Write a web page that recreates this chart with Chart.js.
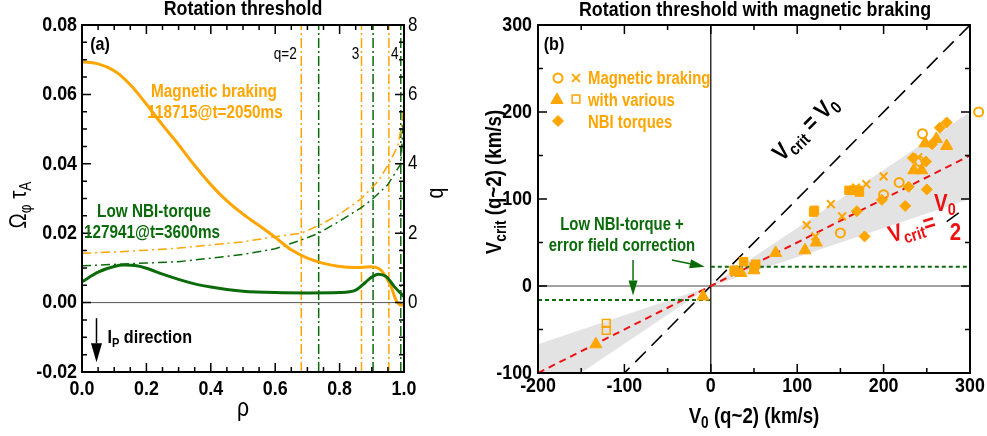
<!DOCTYPE html>
<html>
<head>
<meta charset="utf-8">
<script src="https://cdn.jsdelivr.net/npm/chart.js@4.4.0/dist/chart.umd.min.js"></script>
<style>
    body { margin: 0; background: #fff; width: 987px; height: 436px; overflow: hidden; position: relative; }
    #leftChart { position: absolute; left: 0; top: 0; }
    #rightChart { position: absolute; left: 470px; top: 0; }
</style>
</head>
<body>
<canvas id="leftChart" width="470" height="436"></canvas>
<canvas id="rightChart" width="517" height="436"></canvas>
<script>
// ---- Panel (a): rotation profiles ----
const rhoMB    = [0, 0.05, 0.1, 0.15, 0.2, 0.25, 0.3, 0.35, 0.4, 0.45, 0.5, 0.55, 0.6, 0.65, 0.7, 0.75, 0.8, 0.85, 0.895, 0.92, 0.94, 0.96, 0.975, 0.99, 1.0];
const omegaMB  = [0.0694, 0.0688, 0.0668, 0.0628, 0.0572, 0.0512, 0.0455, 0.0395, 0.0340, 0.0293, 0.0255, 0.0222, 0.0188, 0.0152, 0.0128, 0.0113, 0.0104, 0.0101, 0.0103, 0.0099, 0.0080, 0.0046, 0.0008, -0.0007, -0.0007];
const rhoLow   = [0, 0.05, 0.1, 0.13, 0.17, 0.2, 0.25, 0.3, 0.35, 0.4, 0.45, 0.5, 0.6, 0.7, 0.8, 0.85, 0.88, 0.9, 0.92, 0.945, 0.97, 1.0];
const omegaLow = [0.0060, 0.0088, 0.0104, 0.0108, 0.0106, 0.0099, 0.0082, 0.0067, 0.0054, 0.0045, 0.0038, 0.0033, 0.0029, 0.0028, 0.0029, 0.0036, 0.0058, 0.0074, 0.0082, 0.0075, 0.0046, 0.0017];

// safety factor profiles (right axis)
const rhoQMB   = [0, 0.1, 0.2, 0.3, 0.4, 0.5, 0.6, 0.681, 0.74, 0.8, 0.868, 0.92, 0.953, 0.98, 0.995, 1.0];
const qMB      = [1.42, 1.46, 1.51, 1.57, 1.66, 1.75, 1.9, 2.0, 2.24, 2.55, 3.0, 3.5, 4.0, 4.5, 5.2, 5.9];
const rhoQLow  = [0, 0.1, 0.2, 0.3, 0.4, 0.5, 0.6, 0.68, 0.735, 0.8, 0.865, 0.904, 0.95, 0.99, 1.0];
const qLow     = [1.06, 1.1, 1.14, 1.18, 1.28, 1.39, 1.55, 1.8, 2.0, 2.35, 2.72, 3.0, 3.4, 4.0, 5.5];

// rational surfaces q = 2, 3, 4
const qSurfMB  = [0.681, 0.868, 0.953];
const qSurfLow = [0.735, 0.904, 0.99];
const qSurfLabels = ['q=2', '3', '4'];

// ---- Panel (b): critical rotation vs V0 ----
const circV0  = [310, 245, 242, 218, 200, 150];
const circV   = [200, 175, 143, 119, 105, 61];
const crossV0 = [111, 121, 139, 152, 168, 180, 200, 240];
const crossV  = [70, 57, 94, 80, 113, 117, 126, 148];
const triV0   = [-133, -9, 30, 35, 50, 75, 109, 122, 235, 244, 248, 261, 273];
const triV    = [-67, -12, 16, 15, 18, 38, 41, 50, 133, 133, 164, 169, 161];
const sqV0    = [27, 38, 52, 50, 119, 120, 160, 165, 170, 172];
const sqV     = [18, 28, 25, 22, 85, 87, 110, 110, 110, 108];
const osqV0   = [-121, -121];
const osqV    = [-43, -51];
const diaV0   = [169, 178, 198, 225, 229, 250, 249, 256, 265, 273, 234];
const diaV    = [86, 57, 99, 92, 114, 111, 143, 163, 182, 188, 147];

// reference lines and shaded wedge (end points)
const lineX      = [-200, 300];
const unityY     = [-200, 300];   // Vcrit = V0
const halfY      = [-100, 150];   // Vcrit = V0/2
const bandEdgeA  = [-67, 100];
const bandEdgeB  = [-133, 200];
const efcPosX    = [0, 300];
const efcPosY    = [22, 22];
const efcNegX    = [-200, 0];
const efcNegY    = [-16, -16];

const FONT = "'Liberation Sans', Arial, Helvetica, sans-serif";
const SX = 0.85;            // horizontal squeeze to mimic a narrow Helvetica
const ORANGE = '#FFA500';
const GREEN = '#0b6b0b';
const RED = '#ee1111';

const pts = (xs, ys) => xs.map((x, i) => ({ x: x, y: ys[i] }));
const bold = (s) => 'bold ' + s + 'px ' + FONT;
const norm = (s) => s + 'px ' + FONT;

// text with sub-scripts: parts = [{t, f, dy}], baseline at y
function rich(ctx, parts, x, y, align, color, rot) {
    ctx.save();
    ctx.translate(x, y);
    if (rot) ctx.rotate(rot);
    ctx.scale(SX, 1);
    ctx.fillStyle = color;
    ctx.textAlign = 'left';
    ctx.textBaseline = 'alphabetic';
    let w = 0;
    parts.forEach(p => { ctx.font = p.f; w += ctx.measureText(p.t).width; });
    let cx = align === 'center' ? -w / 2 : (align === 'right' ? -w : 0);
    parts.forEach(p => {
        ctx.font = p.f;
        ctx.fillText(p.t, cx, p.dy || 0);
        cx += ctx.measureText(p.t).width;
    });
    ctx.restore();
}

// plain narrow text, vertically centred on y
function text(ctx, t, x, y, font, color, align, rot) {
    ctx.save();
    ctx.translate(x, y);
    if (rot) ctx.rotate(rot);
    ctx.scale(SX, 1);
    ctx.font = font;
    ctx.fillStyle = color;
    ctx.textAlign = align || 'center';
    ctx.textBaseline = 'middle';
    ctx.fillText(t, 0, 0);
    ctx.restore();
}

function arrow(ctx, x1, y1, x2, y2, hl, hw, color, lw) {
    const ang = Math.atan2(y2 - y1, x2 - x1);
    const bx = x2 - hl * Math.cos(ang), by = y2 - hl * Math.sin(ang);
    ctx.strokeStyle = color;
    ctx.fillStyle = color;
    ctx.lineWidth = lw;
    ctx.beginPath();
    ctx.moveTo(x1, y1);
    ctx.lineTo(bx, by);
    ctx.stroke();
    ctx.beginPath();
    ctx.moveTo(x2, y2);
    ctx.lineTo(bx + hw / 2 * Math.sin(ang), by - hw / 2 * Math.cos(ang));
    ctx.lineTo(bx - hw / 2 * Math.sin(ang), by + hw / 2 * Math.cos(ang));
    ctx.closePath();
    ctx.fill();
}

// inward tick marks on one side of the frame
function inTicks(chart, scale, side, minor, major) {
    const ctx = chart.ctx, a = chart.chartArea;
    const n = Math.round((scale.max - scale.min) / minor);
    ctx.strokeStyle = '#000';
    ctx.lineWidth = 1.5;
    ctx.beginPath();
    for (let i = 0; i <= n; i++) {
        const v = scale.min + i * minor;
        const r = v / major;
        const L = Math.abs(r - Math.round(r)) < 1e-6 ? 9 : 5;
        const p = scale.getPixelForValue(v);
        if (side === 'bottom') { ctx.moveTo(p, a.bottom); ctx.lineTo(p, a.bottom - L); }
        if (side === 'top') { ctx.moveTo(p, a.top); ctx.lineTo(p, a.top + L); }
        if (side === 'left') { ctx.moveTo(a.left, p); ctx.lineTo(a.left + L, p); }
        if (side === 'right') { ctx.moveTo(a.right, p); ctx.lineTo(a.right - L, p); }
    }
    ctx.stroke();
}

// tick labels drawn from the scale, so the narrow face can be used
function tickLabels(chart, scale, side, step, fmt, font, gap) {
    const ctx = chart.ctx, a = chart.chartArea;
    const n = Math.round((scale.max - scale.min) / step);
    for (let i = 0; i <= n; i++) {
        const v = scale.min + i * step;
        const label = fmt(v);
        if (label === '') continue;
        const p = scale.getPixelForValue(v);
        if (side === 'bottom') text(ctx, label, p, a.bottom + gap, font, '#000', 'center');
        if (side === 'left') text(ctx, label, a.left - gap, p, font, '#000', 'right');
        if (side === 'right') text(ctx, label, a.right + gap, p, font, '#000', 'left');
    }
}

function frame(chart) {
    const ctx = chart.ctx, a = chart.chartArea;
    ctx.strokeStyle = '#000';
    ctx.lineWidth = 2;
    ctx.strokeRect(a.left, a.top, a.right - a.left, a.bottom - a.top);
}

function lineSet(data, color, width, dash, axis) {
    return {
        type: 'line', data: data, borderColor: color, borderWidth: width, borderDash: dash || [],
        pointRadius: 0, fill: false, tension: 0, yAxisID: axis || 'y'
    };
}

// first dataset in the list ends up at the bottom
function stackUp(list) {
    list.forEach((d, i) => { d.order = list.length - i; });
    return list;
}

const hiddenAxis = { grid: { display: false }, border: { display: false }, ticks: { display: false } };

// ---------------- Panel (a) ----------------
const leftDatasets = [lineSet(pts([0, 1], [0, 0]), '#555', 1)];
qSurfMB.forEach(r => leftDatasets.push(lineSet(pts([r, r], [-2, 8]), ORANGE, 1.5, [10, 3, 2, 3], 'q')));
qSurfLow.forEach(r => leftDatasets.push(lineSet(pts([r, r], [-2, 8]), GREEN, 1.5, [10, 3, 2, 3], 'q')));
leftDatasets.push(lineSet(pts(rhoQMB, qMB), ORANGE, 1.5, [9, 4, 2, 4], 'q'));
leftDatasets.push(lineSet(pts(rhoQLow, qLow), GREEN, 1.5, [9, 4, 2, 4], 'q'));
leftDatasets.push(Object.assign(lineSet(pts(rhoMB, omegaMB), ORANGE, 3), { cubicInterpolationMode: 'monotone' }));
leftDatasets.push(Object.assign(lineSet(pts(rhoLow, omegaLow), GREEN, 3), { cubicInterpolationMode: 'monotone' }));

const leftDecor = {
    id: 'leftDecor',
    afterDatasetsDraw(chart) {
        const s = chart.scales;
        frame(chart);
        inTicks(chart, s.x, 'bottom', 0.05, 0.2);
        inTicks(chart, s.x, 'top', 0.05, 0.2);
        inTicks(chart, s.y, 'left', 0.005, 0.02);
        inTicks(chart, s.q, 'right', 0.5, 2);
    },
    afterDraw(chart) {
        const ctx = chart.ctx, s = chart.scales, a = chart.chartArea;
        tickLabels(chart, s.x, 'bottom', 0.2, (v) => v.toFixed(1), bold(21), 17);
        tickLabels(chart, s.y, 'left', 0.02, (v) => v.toFixed(2), bold(21), 5);
        tickLabels(chart, s.q, 'right', 2, (v) => (v < 0 ? '' : String(Math.round(v))), norm(20), 4);

        text(ctx, 'Rotation threshold', 243, 9, bold(21), '#000');
        text(ctx, '(a)', a.left + 18, a.top + 20, bold(19), '#000');
        text(ctx, 'Magnetic braking', 214, 92, bold(18), ORANGE);
        text(ctx, '118715@t=2050ms', 215, 113, bold(18), ORANGE);
        text(ctx, 'Low NBI-torque', 154, 212, bold(18), GREEN);
        text(ctx, '127941@t=3600ms', 152, 233, bold(18), GREEN);
        // rational surface labels
        const qy = a.top + 30;
        text(ctx, qSurfLabels[0], s.x.getPixelForValue(qSurfMB[0]) - 16, qy, norm(16), '#000');
        text(ctx, qSurfLabels[1], s.x.getPixelForValue(qSurfMB[1]) - 6, qy, norm(16), '#000');
        text(ctx, qSurfLabels[2], s.x.getPixelForValue(qSurfMB[2]) + 6, qy, norm(16), '#000');
        // plasma current direction
        const ax = s.x.getPixelForValue(0.045);
        arrow(ctx, ax, s.y.getPixelForValue(-0.0045), ax, s.y.getPixelForValue(-0.0172), 19, 11, '#000', 1.5);
        rich(ctx, [{ t: 'I', f: bold(19) }, { t: 'P', f: bold(13), dy: 4 }, { t: ' direction', f: bold(19) }], ax + 11, 343, 'left', '#000');
        // axis titles
        rich(ctx, [{ t: 'Ω', f: norm(24) }, { t: 'φ', f: norm(16), dy: 5 }, { t: ' τ', f: norm(24) }, { t: 'A', f: norm(16), dy: 5 }],
            26, 205, 'center', '#000', -Math.PI / 2);
        text(ctx, 'q', 437, 193, norm(23), '#000', 'center', -Math.PI / 2);
        text(ctx, 'ρ', (a.left + a.right) / 2, 409, norm(25), '#000');
    }
};

new Chart(document.getElementById('leftChart'), {
    type: 'line',
    data: { datasets: stackUp(leftDatasets) },
    options: {
        responsive: false,
        animation: false,
        layout: { padding: { top: 25, left: 0, right: 0, bottom: 0 } },
        plugins: { legend: { display: false }, tooltip: { enabled: false } },
        scales: {
            x: Object.assign({ type: 'linear', min: 0, max: 1, afterFit: (sc) => { sc.height = 64; } }, hiddenAxis),
            y: Object.assign({ min: -0.02, max: 0.08, afterFit: (sc) => { sc.width = 82; } }, hiddenAxis),
            q: Object.assign({ position: 'right', min: -2, max: 8, afterFit: (sc) => { sc.width = 66; } }, hiddenAxis)
        }
    },
    plugins: [leftDecor]
});

// ---------------- Panel (b) ----------------
function markSet(xs, ys, style, radius, filled, lw) {
    return {
        type: 'scatter', data: pts(xs, ys), pointStyle: style, pointRadius: radius,
        pointBackgroundColor: filled ? ORANGE : 'rgba(255,255,255,0)', pointBorderColor: ORANGE,
        pointBorderWidth: lw, showLine: false, clip: false
    };
}

const rightDatasets = [
    lineSet(pts(lineX, bandEdgeA), 'rgba(0,0,0,0)', 0),
    Object.assign(lineSet(pts(lineX, bandEdgeB), 'rgba(0,0,0,0)', 0), { fill: '-1', backgroundColor: '#e3e3e3' }),
    lineSet(pts(lineX, [0, 0]), '#444', 1),
    lineSet(pts([0, 0], [-100, 300]), '#000', 1.2),
    lineSet(pts(lineX, unityY), '#000', 1.6, [15, 8]),
    lineSet(pts(lineX, halfY), RED, 2, [7, 5]),
    lineSet(pts(efcPosX, efcPosY), GREEN, 2, [4, 3]),
    lineSet(pts(efcNegX, efcNegY), GREEN, 2, [4, 3]),
    markSet(diaV0, diaV, 'rectRot', 5.5, true, 1),
    markSet(sqV0, sqV, 'rect', 6, true, 1),
    markSet(osqV0, osqV, 'rect', 5.5, false, 1.5),
    markSet(triV0, triV, 'triangle', 7, true, 1),
    markSet(crossV0, crossV, 'crossRot', 5.5, false, 2),
    markSet(circV0, circV, 'circle', 4.5, false, 2)
];

function legendMark(ctx, style, x, y, radius, filled, lw) {
    ctx.fillStyle = filled ? ORANGE : 'rgba(255,255,255,0)';
    ctx.strokeStyle = ORANGE;
    ctx.lineWidth = lw;
    Chart.helpers.drawPoint(ctx, { pointStyle: style, radius: radius, borderWidth: lw, rotation: 0 }, x, y);
}

const rightDecor = {
    id: 'rightDecor',
    afterDatasetsDraw(chart) {
        const s = chart.scales;
        frame(chart);
        inTicks(chart, s.x, 'bottom', 50, 100);
        inTicks(chart, s.x, 'top', 50, 100);
        inTicks(chart, s.y, 'left', 50, 100);
        inTicks(chart, s.y, 'right', 50, 100);
        // Chart.js skips points outside the plot box; the reference shows one circle just past V0 = 300
        circV0.forEach((v, i) => {
            if (v > s.x.max) legendMark(chart.ctx, 'circle', s.x.getPixelForValue(v), s.y.getPixelForValue(circV[i]), 4.5, false, 2);
        });
    },
    afterDraw(chart) {
        const ctx = chart.ctx, s = chart.scales, a = chart.chartArea;
        const X = (v) => s.x.getPixelForValue(v), Y = (v) => s.y.getPixelForValue(v);
        tickLabels(chart, s.x, 'bottom', 100, (v) => String(Math.round(v)), bold(21), 13);
        tickLabels(chart, s.y, 'left', 100, (v) => String(Math.round(v)), bold(21), 6);

        text(ctx, 'Rotation threshold with magnetic braking', 285, 10, bold(21), '#000');
        text(ctx, '(b)', a.left + 16, a.top + 20, bold(19), '#000');
        // legend
        legendMark(ctx, 'circle', a.left + 20, a.top + 53, 4.5, false, 2);
        legendMark(ctx, 'crossRot', a.left + 38, a.top + 53, 5.5, false, 2);
        legendMark(ctx, 'triangle', a.left + 19, a.top + 75, 7, true, 1);
        legendMark(ctx, 'rect', a.left + 38, a.top + 74, 5.5, false, 1.5);
        legendMark(ctx, 'rectRot', a.left + 20, a.top + 96, 5.5, true, 1);
        text(ctx, 'Magnetic braking', a.left + 50, a.top + 54, bold(17.5), ORANGE, 'left');
        text(ctx, 'with various', a.left + 50, a.top + 76, bold(17.5), ORANGE, 'left');
        text(ctx, 'NBI torques', a.left + 50, a.top + 98, bold(17.5), ORANGE, 'left');
        // error field correction note
        text(ctx, 'Low NBI-torque +', 152, 225, bold(17.5), GREEN);
        text(ctx, 'error field correction', 152, 246, bold(17.5), GREEN);
        arrow(ctx, X(-90), Y(30), X(-90), Y(-11), 15, 9, GREEN, 1.5);
        arrow(ctx, X(-45), Y(30), X(-7), Y(22), 15, 9, GREEN, 1.5);
        // Vcrit = V0
        rich(ctx, [{ t: 'V', f: bold(24) }, { t: 'crit', f: bold(17), dy: 5 }, { t: ' = V', f: bold(24) }, { t: '0', f: bold(17), dy: 5 }],
            X(111) + 4, Y(182) + 6, 'center', '#000', -Math.PI / 4);
        // Vcrit = V0/2
        rich(ctx, [{ t: 'V', f: bold(24) }, { t: 'crit', f: bold(17), dy: 5 }, { t: '=', f: bold(24) }],
            X(233) + 2, Y(67) + 8, 'center', RED, -0.3);
        rich(ctx, [{ t: 'V', f: bold(24) }, { t: '0', f: bold(17), dy: 4 }], X(271), Y(95) + 8, 'center', RED);
        text(ctx, '2', X(283), Y(61), bold(24), RED);
        ctx.strokeStyle = '#000';
        ctx.lineWidth = 1.5;
        ctx.beginPath();
        ctx.moveTo(X(273), Y(74));
        ctx.lineTo(X(287), Y(84));
        ctx.stroke();
        // axis titles
        rich(ctx, [{ t: 'V', f: bold(22) }, { t: 'crit', f: bold(16), dy: 5 }, { t: ' (q~2) (km/s)', f: bold(22) }],
            31, 182, 'center', '#000', -Math.PI / 2);
        rich(ctx, [{ t: 'V', f: bold(22) }, { t: '0', f: bold(16), dy: 5 }, { t: ' (q~2) (km/s)', f: bold(22) }],
            (a.left + a.right) / 2, 423, 'center', '#000');
    }
};

new Chart(document.getElementById('rightChart'), {
    type: 'scatter',
    data: { datasets: stackUp(rightDatasets) },
    options: {
        responsive: false,
        animation: false,
        layout: { padding: { top: 25, left: 0, right: 17, bottom: 0 } },
        plugins: { legend: { display: false }, tooltip: { enabled: false } },
        scales: {
            x: Object.assign({ type: 'linear', min: -200, max: 300, afterFit: (sc) => { sc.height = 63; } }, hiddenAxis),
            y: Object.assign({ min: -100, max: 300, afterFit: (sc) => { sc.width = 68; } }, hiddenAxis)
        }
    },
    plugins: [rightDecor]
});
</script>
</body>
</html>
